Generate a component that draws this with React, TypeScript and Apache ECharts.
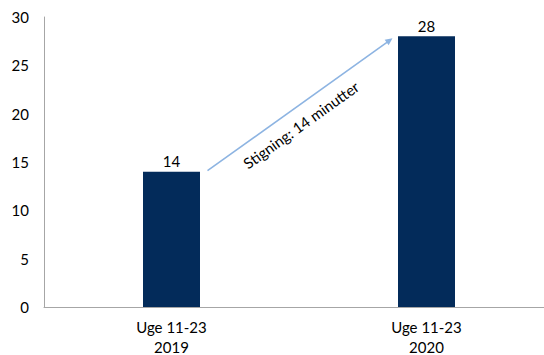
import React, { useEffect, useRef } from "react";
import * as echarts from "echarts";

const categories = ["Uge 11-23\n2019", "Uge 11-23\n2020"];
const minutes = [14, 28];
const yTicks = { min: 0, max: 30, interval: 5 };
const arrowLabel = "Stigning: 14 minutter";

export default function App() {
  const ref = useRef<HTMLDivElement>(null);

  useEffect(() => {
    document.body.style.margin = "0";
    const chart = echarts.init(ref.current!, null, { renderer: "svg" });
    const font = "Lato, 'Open Sans', sans-serif";
    chart.setOption({
      animation: false,
      grid: { left: 44, width: 510, top: 17, height: 290, outerBoundsMode: "none", containLabel: false },
      xAxis: {
        type: "category",
        data: categories,
        axisLine: { lineStyle: { color: "#a6a6a6", width: 1 } },
        axisTick: { show: false },
        axisLabel: { color: "#000", fontSize: 15, fontFamily: font, lineHeight: 20, margin: 10 },
      },
      yAxis: {
        type: "value",
        min: yTicks.min,
        max: yTicks.max,
        interval: yTicks.interval,
        axisLine: { show: true, lineStyle: { color: "#a6a6a6", width: 1 } },
        axisTick: { show: false },
        splitLine: { show: false },
        axisLabel: { color: "#000", fontSize: 15, fontFamily: font, margin: 15 },
      },
      series: [
        {
          type: "bar",
          data: minutes,
          barWidth: 57,
          itemStyle: { color: "#032b5a" },
          label: { show: true, position: "top", color: "#000", fontSize: 15, fontFamily: font, distance: 3 },
        },
      ],
    });

    // Arrow from the top of the first bar to the top of the second one
    const a = chart.convertToPixel({ gridIndex: 0 }, [0, minutes[0]]) as number[];
    const b = chart.convertToPixel({ gridIndex: 0 }, [1, minutes[1]]) as number[];
    const x1 = a[0] + 36;
    const y1 = a[1] - 1;
    const x2 = b[0] - 34;
    const y2 = b[1] + 2;
    const ang = Math.atan2(y1 - y2, x2 - x1);
    const head = 8;
    const spread = 0.45;
    const hx1 = x2 - head * Math.cos(ang - spread);
    const hy1 = y2 + head * Math.sin(ang - spread);
    const hx2 = x2 - head * Math.cos(ang + spread);
    const hy2 = y2 + head * Math.sin(ang + spread);
    // label sits under the arrow, slightly before its midpoint
    const along = -11;
    const off = 17;
    const mx = (x1 + x2) / 2 + along * Math.cos(ang);
    const my = (y1 + y2) / 2 - along * Math.sin(ang);
    const tx = mx + off * Math.sin(ang);
    const ty = my + off * Math.cos(ang);

    chart.setOption({
      graphic: [
        {
          type: "line",
          shape: { x1, y1, x2: x2 - 3 * Math.cos(ang), y2: y2 + 3 * Math.sin(ang) },
          style: { stroke: "#8db4e2", lineWidth: 1.6 },
        },
        {
          type: "polygon",
          shape: { points: [[x2, y2], [hx1, hy1], [hx2, hy2]] },
          style: { fill: "#8db4e2" },
        },
        {
          type: "text",
          x: tx,
          y: ty,
          rotation: ang,
          style: {
            text: arrowLabel,
            fill: "#000",
            fontSize: 15,
            fontFamily: font,
            align: "center",
            verticalAlign: "middle",
          },
        },
      ],
    });

    return () => chart.dispose();
  }, []);

  return <div ref={ref} style={{ width: 544, height: 355 }} />;
}
